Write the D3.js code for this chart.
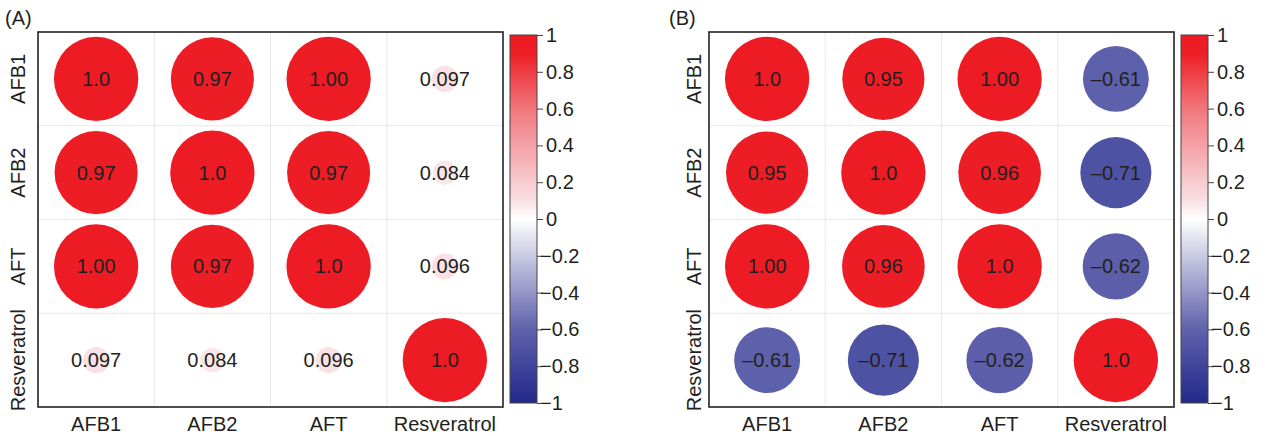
<!DOCTYPE html>
<html>
<head>
<meta charset="utf-8">
<script src="https://cdn.jsdelivr.net/npm/d3@7"></script>
<style>
  body { margin: 0; background: #fff; }
  text { font-family: "Liberation Sans", Arial, sans-serif; fill: #231f20; }
</style>
</head>
<body>
<div id="chart"></div>
<script>
// variables (rows and columns of both matrices)
var variables = ["AFB1", "AFB2", "AFT", "Resveratrol"];

// panel A correlations
var corrA = [
  [1.0, 0.97, 0.998, 0.097],
  [0.97, 1.0, 0.97, 0.084],
  [0.998, 0.97, 1.0, 0.096],
  [0.097, 0.084, 0.096, 1.0]
];
var labelsA = [
  ["1.0", "0.97", "1.00", "0.097"],
  ["0.97", "1.0", "0.97", "0.084"],
  ["1.00", "0.97", "1.0", "0.096"],
  ["0.097", "0.084", "0.096", "1.0"]
];

// panel B correlations
var corrB = [
  [1.0, 0.95, 0.998, -0.61],
  [0.95, 1.0, 0.96, -0.71],
  [0.998, 0.96, 1.0, -0.62],
  [-0.61, -0.71, -0.62, 1.0]
];
var labelsB = [
  ["1.0", "0.95", "1.00", "\u20130.61"],
  ["0.95", "1.0", "0.96", "\u20130.71"],
  ["1.00", "0.96", "1.0", "\u20130.62"],
  ["\u20130.61", "\u20130.71", "\u20130.62", "1.0"]
];

var colorbarTicks = [1, 0.8, 0.6, 0.4, 0.2, 0, -0.2, -0.4, -0.6, -0.8, -1];

var W = 1269, H = 436;
var plotW = 465, plotH = 375, plotTop = 32;

var svg = d3.select("#chart")
  .append("svg")
    .attr("width", W)
    .attr("height", H);

// colour scale: blue - white - red
var color = d3.scaleLinear()
  .domain([-1, -0.6, -0.1, 0, 0.1, 0.6, 0.9, 1])
  .range(["#21298a", "#5f61ab", "#e4e4f1", "#ffffff", "#f9e0e4", "#f0777c", "#ed1e26", "#ed1c24"])
  .interpolate(d3.interpolateRgb);

// gradient for the colour bars
var defs = svg.append("defs");
var grad = defs.append("linearGradient")
  .attr("id", "cbar")
  .attr("x1", 0).attr("y1", 1).attr("x2", 0).attr("y2", 0);
d3.range(0, 1.0001, 0.025).forEach(function(t) {
  grad.append("stop")
    .attr("offset", t)
    .attr("stop-color", color(-1 + 2 * t));
});

function drawPanel(left, tag, tagX, labelGap, values, labels) {
  var g = svg.append("g")
    .attr("transform", "translate(" + left + "," + plotTop + ")");

  var x = d3.scaleBand().domain(variables).range([0, plotW]);
  var y = d3.scaleBand().domain(variables).range([0, plotH]);
  var rMax = 0.45 * Math.min(x.bandwidth(), y.bandwidth());
  var r = d3.scaleSqrt().domain([0, 1]).range([0, rMax]);

  // light grid
  g.append("g")
    .selectAll("line")
    .data(variables.slice(1))
    .enter()
    .append("line")
      .attr("x1", d => x(d)).attr("x2", d => x(d))
      .attr("y1", 0).attr("y2", plotH)
      .attr("stroke", "#e8e8e8");
  g.append("g")
    .selectAll("line")
    .data(variables.slice(1))
    .enter()
    .append("line")
      .attr("y1", d => y(d)).attr("y2", d => y(d))
      .attr("x1", 0).attr("x2", plotW)
      .attr("stroke", "#e8e8e8");

  var cells = [];
  variables.forEach(function(rv, i) {
    variables.forEach(function(cv, j) {
      cells.push({row: rv, col: cv, value: values[i][j], label: labels[i][j]});
    });
  });

  g.append("g")
    .selectAll("circle")
    .data(cells)
    .enter()
    .append("circle")
      .attr("cx", d => x(d.col) + x.bandwidth() / 2)
      .attr("cy", d => y(d.row) + y.bandwidth() / 2)
      .attr("r", d => r(Math.abs(d.value)))
      .attr("fill", d => color(d.value));

  g.append("g")
    .selectAll("text")
    .data(cells)
    .enter()
    .append("text")
      .attr("x", d => x(d.col) + x.bandwidth() / 2)
      .attr("y", d => y(d.row) + y.bandwidth() / 2)
      .attr("dy", "0.35em")
      .attr("text-anchor", "middle")
      .attr("font-size", 20)
      .text(d => d.label);

  // frame
  g.append("rect")
    .attr("width", plotW).attr("height", plotH)
    .attr("fill", "none")
    .attr("stroke", "#222")
    .attr("stroke-width", 1.6);

  // x labels
  g.append("g")
    .selectAll("text")
    .data(variables)
    .enter()
    .append("text")
      .attr("x", d => x(d) + x.bandwidth() / 2)
      .attr("y", plotH + 24)
      .attr("text-anchor", "middle")
      .attr("font-size", 20)
      .text(d => d);

  // y labels (rotated)
  g.append("g")
    .selectAll("text")
    .data(variables)
    .enter()
    .append("text")
      .attr("transform", d => "translate(" + (-labelGap) + "," + (y(d) + y.bandwidth() / 2) + ") rotate(-90)")
      .attr("text-anchor", "middle")
      .attr("font-size", 20)
      .text(d => d);

  // panel tag
  svg.append("text")
    .attr("x", tagX)
    .attr("y", 25)
    .attr("font-size", 20)
    .text(tag);

  // colour bar
  var cbX = plotW + 7, cbW = 27;
  var cy = d3.scaleLinear().domain([1, -1]).range([3, plotH - 4]);
  var cb = g.append("g").attr("transform", "translate(" + cbX + ",0)");
  cb.append("rect")
    .attr("x", 0).attr("y", cy(1))
    .attr("width", cbW).attr("height", cy(-1) - cy(1))
    .attr("fill", "url(#cbar)")
    .attr("stroke", "#444")
    .attr("stroke-width", 1);
  var axis = d3.axisRight(cy)
    .tickValues(colorbarTicks)
    .tickSize(6)
    .tickPadding(3)
    .tickFormat(function(d) {
      var s = d === 0 ? "0" : (Math.abs(d) === 1 ? "1" : String(Math.abs(d)));
      return d < 0 ? "\u2212" + s : s;
    });
  var ax = cb.append("g")
    .attr("transform", "translate(" + cbW + ",0)")
    .call(axis);
  ax.select(".domain").remove();
  ax.selectAll(".tick line").attr("stroke", "#444");
  ax.selectAll(".tick text")
    .attr("font-size", 20)
    .attr("font-family", "'Liberation Sans', Arial, sans-serif")
    .attr("fill", "#231f20")
    .attr("x", d => d < 0 ? 3 : 9);
}

drawPanel(38, "(A)", 5, 13, corrA, labelsA);
drawPanel(709, "(B)", 669, 8, corrB, labelsB);
</script>
</body>
</html>
